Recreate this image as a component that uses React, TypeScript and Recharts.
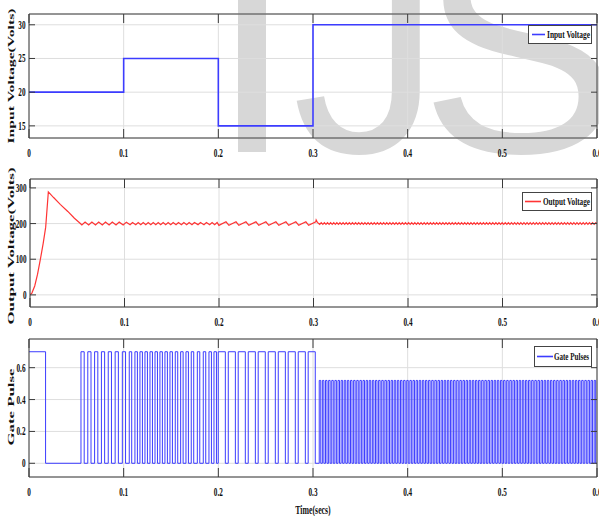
import React from 'react';
import { LineChart, Line, XAxis, YAxis, CartesianGrid, Legend } from 'recharts';

// time axis (s)
const X_TICKS = [0, 0.1, 0.2, 0.3, 0.4, 0.5, 0.6];
const IN_TICKS = [15, 20, 25, 30];
const OUT_TICKS = [0, 100, 200, 300];
const GATE_TICKS = [0, 0.2, 0.4, 0.6];

// input voltage steps
const IN_T = [0, 0.1, 0.1, 0.2, 0.2, 0.3, 0.3, 0.6];
const IN_V = [20, 20, 25, 25, 15, 15, 30, 30];

// output voltage start-up transient
const OUT_T = [0, 0.002, 0.005, 0.008, 0.011, 0.014, 0.0166, 0.0194, 0.025, 0.032, 0.04, 0.047, 0.053];
const OUT_V = [0, 5, 25, 58, 100, 145, 190, 289, 273, 254, 234, 215, 201];
// overshoot when input steps at 0.3 s
const SPIKE_T = [0.3028, 0.304, 0.3055];
const SPIKE_V = [210, 204, 200];
const OUT_END = 200;

// gate signal before switching begins
const GATE_PRE_T = [0, 0.0175, 0.0175, 0.0549];
const GATE_PRE_V = [0.7, 0.7, 0, 0];

// pulse rising edges, per operating interval
const RISE_A = [0.0549, 0.0621, 0.0693, 0.0765, 0.0837, 0.091, 0.0986];
const RISE_B = [
  0.1059, 0.1119, 0.1172, 0.1225, 0.1278, 0.1331, 0.1383, 0.1436, 0.1489,
  0.1545, 0.1602, 0.1658, 0.1714, 0.1778, 0.1841, 0.1901, 0.1954,
];
const RISE_C = [0.1999, 0.2105, 0.221, 0.2316, 0.2421, 0.2527, 0.2633, 0.2738, 0.2844, 0.2949];
const RISE_D = [
  0.3066, 0.3099, 0.3132, 0.3165, 0.3198, 0.3231, 0.3264, 0.3297, 0.333, 0.3363,
  0.3396, 0.3429, 0.3462, 0.3495, 0.3528, 0.3561, 0.3594, 0.3627, 0.366, 0.3693,
  0.3726, 0.3759, 0.3792, 0.3825, 0.3858, 0.3891, 0.3924, 0.3957, 0.399, 0.4023,
  0.4056, 0.4089, 0.4122, 0.4155, 0.4188, 0.4221, 0.4254, 0.4287, 0.432, 0.4353,
  0.4386, 0.4419, 0.4452, 0.4485, 0.4518, 0.4551, 0.4584, 0.4617, 0.465, 0.4683,
  0.4716, 0.4749, 0.4782, 0.4815, 0.4848, 0.4881, 0.4914, 0.4947, 0.498, 0.5013,
  0.5046, 0.5079, 0.5112, 0.5145, 0.5178, 0.5211, 0.5244, 0.5277, 0.531, 0.5343,
  0.5376, 0.5409, 0.5442, 0.5475, 0.5508, 0.5541, 0.5574, 0.5607, 0.564, 0.5673,
  0.5706, 0.5739, 0.5772, 0.5805, 0.5838, 0.5871, 0.5904, 0.5937, 0.597,
];
const PULSE_ON = [0.0034, 0.0026, 0.0075, 0.0016];
const PULSE_LEVEL = [0.7, 0.7, 0.7, 0.52];
const RIPPLE = [4, 3, 5, 2.5];

type Pt = { t: number; v: number };

const inputData: Pt[] = IN_T.map((t, i) => ({ t, v: IN_V[i] }));
const outputData: Pt[] = OUT_T.map((t, i) => ({ t, v: OUT_V[i] }));
const gateData: Pt[] = GATE_PRE_T.map((t, i) => ({ t, v: GATE_PRE_V[i] }));

[RISE_A, RISE_B, RISE_C, RISE_D].forEach((rises, k) => {
  rises.forEach((r) => {
    const f = r + PULSE_ON[k];
    gateData.push({ t: r, v: 0 }, { t: r, v: PULSE_LEVEL[k] }, { t: f, v: PULSE_LEVEL[k] }, { t: f, v: 0 });
    outputData.push({ t: r, v: 200 - RIPPLE[k] }, { t: f, v: 200 + RIPPLE[k] });
  });
});
SPIKE_T.forEach((t, i) => outputData.push({ t, v: SPIKE_V[i] }));
outputData.push({ t: 0.6, v: OUT_END });
outputData.sort((a, b) => a.t - b.t);
gateData.push({ t: 0.6, v: 0 });

const AXIS = '#3a3a3a';
const GRID = '#dedede';
const BLUE = '#3c3cff';
const RED = '#ff3434';
const SERIF = '"Liberation Serif", "Times New Roman", serif';
const tickFont = { fontFamily: SERIF, fontWeight: 700, fontSize: 12 } as const;

const LeftTick = ({ x, y, payload }: any) => (
  <g transform={`translate(${x},${y})`}>
    <line x1={0} x2={6} y1={0} y2={0} stroke={AXIS} />
    <text transform="scale(0.6,1)" x={-3.5 / 0.6} y={4} textAnchor="end" fill="#111" style={tickFont}>
      {payload.value}
    </text>
  </g>
);

const RightTick = ({ x, y }: any) => (
  <line x1={x - 6} x2={x} y1={y} y2={y} stroke={AXIS} />
);

const BottomTick = ({ x, y, payload }: any) => (
  <g transform={`translate(${x},${y})`}>
    <line x1={0} x2={0} y1={0} y2={-9} stroke={AXIS} />
    <text transform="scale(0.6,1)" x={0} y={19} textAnchor="middle" fill="#111" style={tickFont}>
      {payload.value}
    </text>
  </g>
);

const TopTick = ({ x, y }: any) => (
  <line x1={x} x2={x} y1={y} y2={y + 9} stroke={AXIS} />
);

type Box = { left: number; top: number; w: number; h: number; l1: number; l2: number; tx: number; tw: number };

function LegendBox({ payload, box }: any) {
  const b: Box = box;
  const item = payload && payload[0];
  if (!item) return null;
  const mid = (b.h - 2) / 2;
  return (
    <div style={{ width: b.w, height: b.h, boxSizing: 'border-box', border: '1px solid #444', background: '#fff' }}>
      <svg width={b.w - 2} height={b.h - 2} style={{ display: 'block' }}>
        <line x1={b.l1} x2={b.l2} y1={mid} y2={mid} stroke={item.color} strokeWidth={1.6} />
        <text
          x={b.tx}
          y={mid + 3.5}
          textLength={b.tw}
          lengthAdjust="spacingAndGlyphs"
          fill="#111"
          style={{ fontFamily: SERIF, fontWeight: 700, fontSize: 10 }}
        >
          {item.value}
        </text>
      </svg>
    </div>
  );
}

type PanelProps = {
  top: number;
  height: number;
  margin: { top: number; right: number; bottom: number; left: number };
  data: Pt[];
  domain: [number, number];
  ticks: number[];
  color: string;
  name: string;
  strokeWidth: number;
  box: Box;
};

function Panel({ top, height, margin, data, domain, ticks, color, name, strokeWidth, box }: PanelProps) {
  return (
    <div style={{ position: 'absolute', left: 0, top, zIndex: 1 }}>
      <LineChart width={599} height={height} data={data} margin={margin}>
        <CartesianGrid xAxisId="b" yAxisId="l" stroke={GRID} vertical horizontal />
        <XAxis
          xAxisId="b"
          dataKey="t"
          type="number"
          domain={[0, 0.6]}
          ticks={X_TICKS}
          allowDataOverflow
          height={25}
          tickSize={0}
          tickMargin={0}
          interval={0}
          stroke={AXIS}
          tick={BottomTick}
        />
        <XAxis
          xAxisId="t"
          orientation="top"
          dataKey="t"
          type="number"
          domain={[0, 0.6]}
          ticks={X_TICKS}
          allowDataOverflow
          height={1}
          tickSize={0}
          tickMargin={0}
          interval={0}
          stroke={AXIS}
          tick={TopTick}
        />
        <YAxis
          yAxisId="l"
          type="number"
          domain={domain}
          ticks={ticks}
          allowDataOverflow
          width={20}
          tickSize={0}
          tickMargin={0}
          interval={0}
          stroke={AXIS}
          tick={LeftTick}
        />
        <YAxis
          yAxisId="r"
          orientation="right"
          type="number"
          domain={domain}
          ticks={ticks}
          allowDataOverflow
          width={1}
          tickSize={0}
          tickMargin={0}
          interval={0}
          stroke={AXIS}
          tick={RightTick}
        />
        <Legend
          layout="horizontal"
          verticalAlign="middle"
          align="center"
          wrapperStyle={{ top: box.top, left: box.left, width: box.w, height: box.h }}
          content={(p: any) => <LegendBox payload={p.payload} box={box} />}
        />
        <Line
          xAxisId="b"
          yAxisId="l"
          type="linear"
          dataKey="v"
          name={name}
          stroke={color}
          strokeWidth={strokeWidth}
          dot={false}
          isAnimationActive={false}
        />
      </LineChart>
    </div>
  );
}

const titleFont = { fontFamily: SERIF, fontWeight: 700, fill: '#111' } as const;

export default function App() {
  return (
    <div style={{ position: 'absolute', left: 0, top: 0, width: 599, height: 516, background: '#fff', overflow: 'hidden' }}>
      <svg width={599} height={516} style={{ position: 'absolute', left: 0, top: 0, zIndex: 0 }}>
        <g fill="#d7d7d7" style={{ fontFamily: '"Liberation Sans", Arial, sans-serif', fontSize: 300 }}>
          <text x={252} y={152} textAnchor="middle">I</text>
          <text x={367} y={152} textAnchor="middle">J</text>
          <text x={520} y={152} textAnchor="middle">S</text>
        </g>
      </svg>
      <Panel
        top={0}
        height={170}
        margin={{ top: 13, right: 1, bottom: 7, left: 9 }}
        data={inputData}
        domain={[13.2, 31.6]}
        ticks={IN_TICKS}
        color={BLUE}
        name="Input Voltage"
        strokeWidth={1.6}
        box={{ left: 528, top: 25, w: 64, h: 19, l1: 3, l2: 16, tx: 18, tw: 43 }}
      />
      <Panel
        top={170}
        height={170}
        margin={{ top: 8, right: 1, bottom: 8, left: 10 }}
        data={outputData}
        domain={[-34, 325]}
        ticks={OUT_TICKS}
        color={RED}
        name="Output Voltage"
        strokeWidth={1.2}
        box={{ left: 522, top: 22, w: 70, h: 19, l1: 2, l2: 18, tx: 20, tw: 47 }}
      />
      <Panel
        top={330}
        height={186}
        margin={{ top: 8, right: 1, bottom: 14, left: 9 }}
        data={gateData}
        domain={[-0.086, 0.78]}
        ticks={GATE_TICKS}
        color={BLUE}
        name="Gate Pulses"
        strokeWidth={1}
        box={{ left: 534, top: 16, w: 58, h: 21, l1: 2, l2: 18, tx: 19, tw: 35 }}
      />
      <svg width={599} height={516} style={{ position: 'absolute', left: 0, top: 0, zIndex: 2, pointerEvents: 'none' }}>
        <text transform="translate(14,76) rotate(-90) scale(1,0.6)" textAnchor="middle" textLength={135} lengthAdjust="spacingAndGlyphs" style={{ ...titleFont, fontSize: 13 }}>
          Input Voltage(Volts)
        </text>
        <text transform="translate(14,246) rotate(-90) scale(1,0.6)" textAnchor="middle" textLength={157} lengthAdjust="spacingAndGlyphs" style={{ ...titleFont, fontSize: 14 }}>
          Output Voltage(Volts)
        </text>
        <text transform="translate(14,407) rotate(-90) scale(1,0.6)" textAnchor="middle" textLength={77} lengthAdjust="spacingAndGlyphs" style={{ ...titleFont, fontSize: 13 }}>
          Gate Pulse
        </text>
        <text transform="translate(313,514) scale(0.6,1)" textAnchor="middle" style={{ ...titleFont, fontSize: 13 }}>
          Time(secs)
        </text>
      </svg>
    </div>
  );
}
